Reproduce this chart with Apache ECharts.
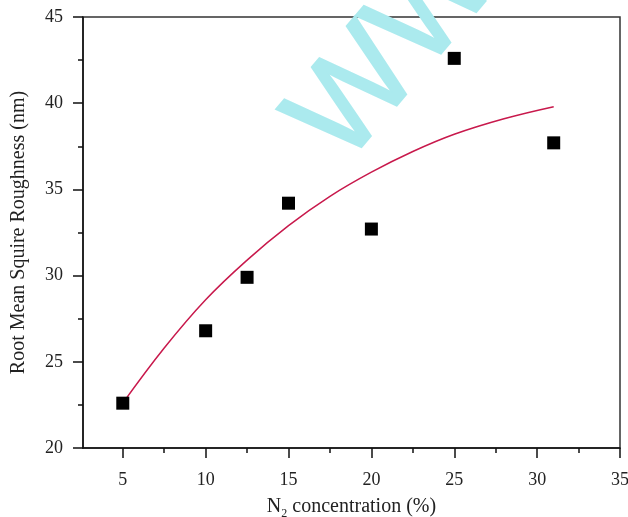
<!DOCTYPE html>
<html>
<head>
<meta charset="utf-8">
<script src="https://cdn.jsdelivr.net/npm/echarts@6/dist/echarts.min.js"></script>
<style>html,body{margin:0;padding:0;background:#fff}#c{width:628px;height:517px}</style>
</head>
<body>
<div id="c"></div>
<script>
// Data
const n2Concentration = [5, 10, 12.5, 15, 20, 25, 31];
const rmsRoughness = [22.6, 26.8, 29.9, 34.2, 32.7, 42.6, 37.7];
const fitX = [5, 7.5, 10, 12.5, 15, 17.5, 20, 22.5, 25, 28, 31];
const fitY = [22.6, 25.8, 28.6, 30.9, 32.9, 34.6, 36.0, 37.2, 38.2, 39.1, 39.8];
const xTickValues = [5, 10, 15, 20, 25, 30, 35];
const xMinorTickValues = [7.5, 12.5, 17.5, 22.5, 27.5, 32.5];
const yTickValues = [20, 25, 30, 35, 40, 45];

const font = '"Liberation Serif", "DejaVu Serif", serif';
const chart = echarts.init(document.getElementById('c'));
chart.setOption({
  animation: false,
  backgroundColor: '#fff',
  grid: { left: 83, right: 8, top: 17, bottom: 69, outerBoundsMode: 'none', containLabel: false, show: true, borderColor: '#333', borderWidth: 1.5, backgroundColor: 'transparent' },
  graphic: [{
    type: 'text', x: 436, y: 4, rotation: 0.866, z: 0,
    style: { text: 'WWW', font: '130px "Liberation Sans", Arial, sans-serif', fill: '#abeaee', stroke: '#abeaee', lineWidth: 2, align: 'center', verticalAlign: 'middle' }
  }],
  xAxis: [{
    type: 'value', min: 2.6, max: 35,
    axisLine: { show: true, lineStyle: { color: '#111', width: 1.5 } },
    axisTick: { show: true, length: 10, customValues: xTickValues, lineStyle: { color: '#111', width: 1.5 } },
    axisLabel: { customValues: xTickValues, margin: 23, fontFamily: font, fontSize: 18, color: '#222' },
    splitLine: { show: false },
    name: '{a|N}{s|2}{a| concentration (%)}',
    nameLocation: 'middle', nameGap: 46,
    nameTextStyle: { rich: { a: { fontFamily: font, fontSize: 20, color: '#222' }, s: { fontFamily: font, fontSize: 12, color: '#222', verticalAlign: 'bottom', padding: [14, 0, 0, 0] } } }
  }, {
    type: 'value', min: 2.6, max: 35, position: 'bottom',
    axisLine: { show: false },
    axisTick: { show: true, length: 5, customValues: xMinorTickValues, lineStyle: { color: '#111', width: 1.5 } },
    axisLabel: { show: false }, splitLine: { show: false }
  }],
  yAxis: {
    type: 'value', min: 20, max: 45, interval: 5,
    axisLine: { show: true, lineStyle: { color: '#111', width: 1.5 } },
    axisTick: { show: true, length: 10, lineStyle: { color: '#111', width: 1.5 } },
    minorTick: { show: true, splitNumber: 2, length: 5, lineStyle: { color: '#111', width: 1.5 } },
    axisLabel: { margin: 20, fontFamily: font, fontSize: 18, color: '#222' },
    splitLine: { show: false },
    name: 'Root Mean Squire Roughness (nm)',
    nameLocation: 'middle', nameGap: 54,
    nameTextStyle: { fontFamily: font, fontSize: 20, color: '#222' }
  },
  series: [{
    type: 'line', data: fitX.map((x, i) => [x, fitY[i]]), smooth: 0.4, showSymbol: false,
    lineStyle: { color: '#c8194c', width: 1.5 }, z: 2
  }, {
    type: 'scatter', data: n2Concentration.map((x, i) => [x, rmsRoughness[i]]),
    symbol: 'rect', symbolSize: 13, itemStyle: { color: '#000', opacity: 1 }, z: 3
  }]
});
</script>
</body>
</html>
